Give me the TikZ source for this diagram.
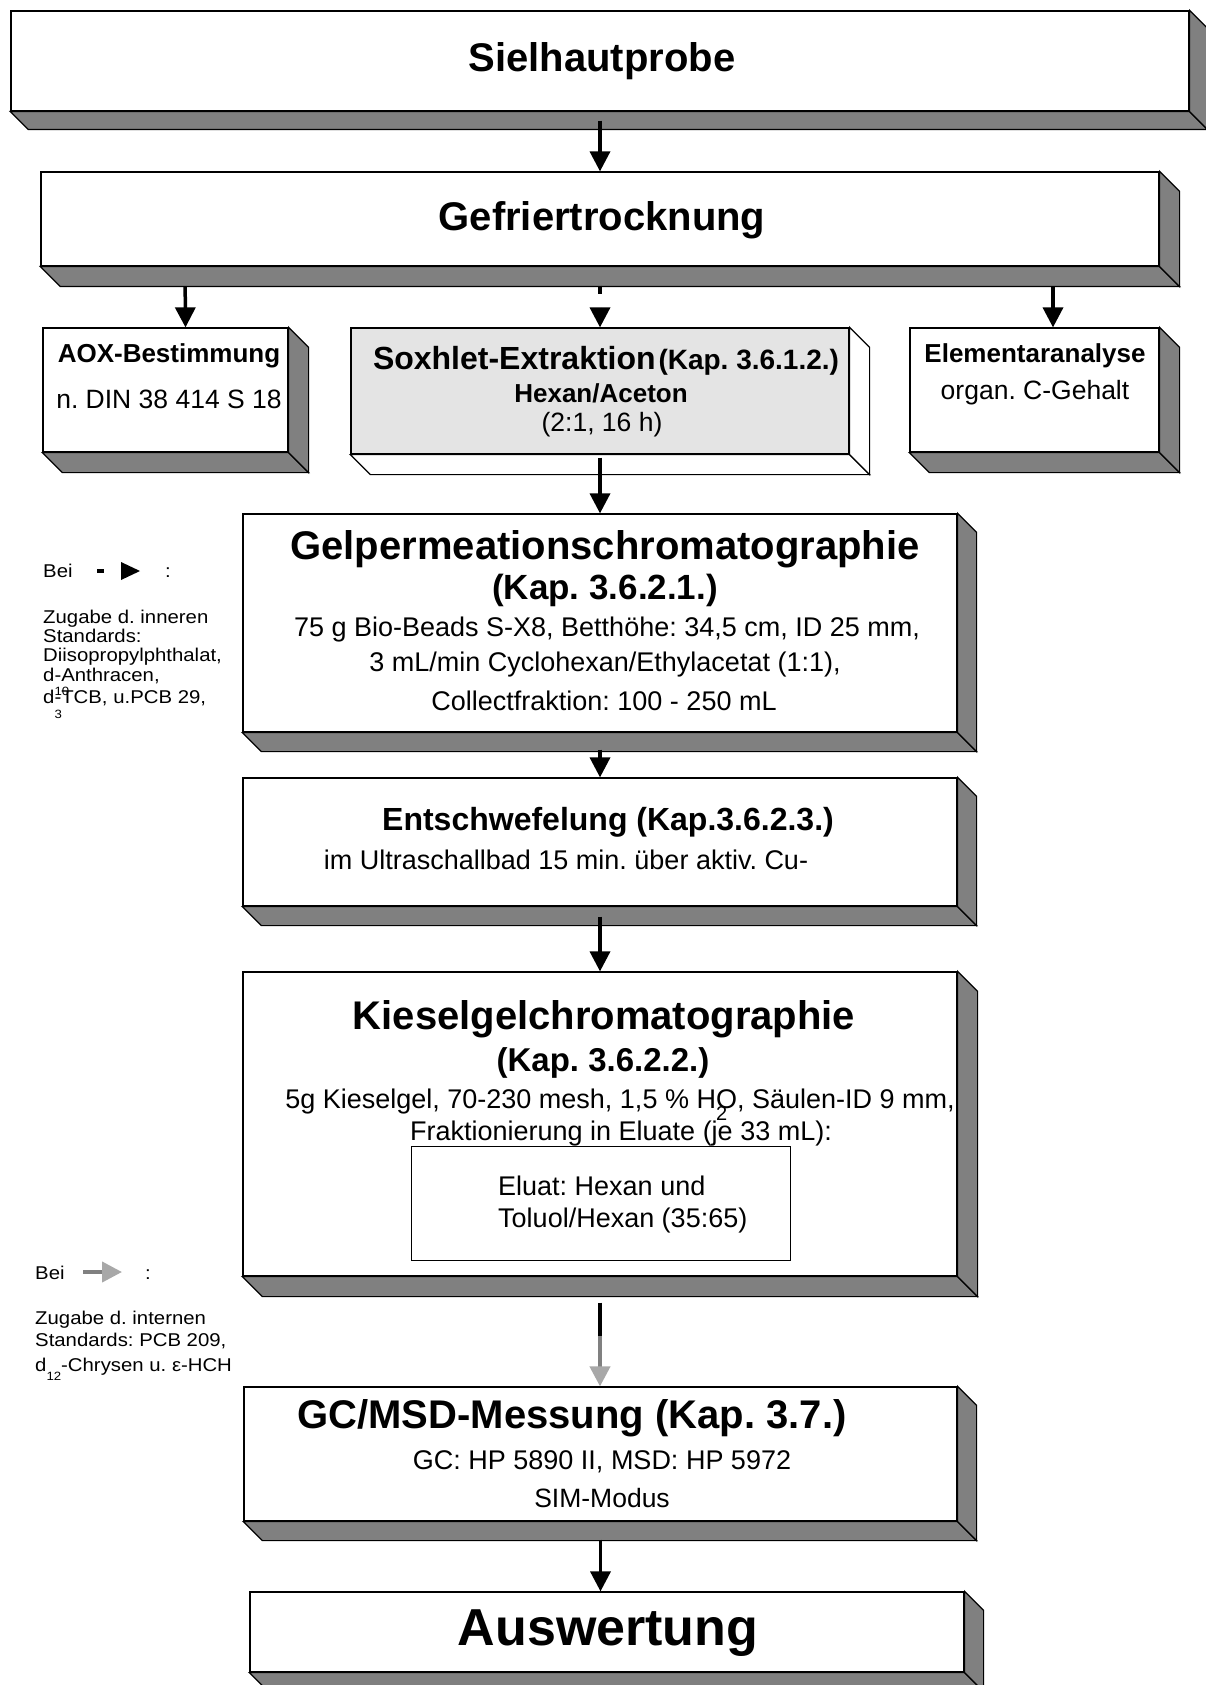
\documentclass[tikz,border=0pt]{standalone}
\usepackage{fontspec}
\setmainfont{Liberation Sans}
\newfontfamily\legfont[FakeStretch=1.1]{Liberation Sans}
\usetikzlibrary{arrows.meta}
\frenchspacing

\definecolor{shadegray}{HTML}{808080}
\definecolor{soxgray}{HTML}{E4E4E4}
\definecolor{headgray}{HTML}{A8A8A8}

\newcommand\headfont{\fontsize{40}{44}\selectfont\bfseries}
\newcommand\kapfont{\fontsize{33}{37}\selectfont\bfseries}
\newcommand\boldsmall{\fontsize{26}{30}\selectfont\bfseries}
\newcommand\bodyfont{\fontsize{27}{31}\selectfont}
\newcommand\smallfont{\fontsize{26.5}{30}\selectfont}
\newcommand\legsize{\legfont\fontsize{18.5}{20}\selectfont}

% bottom and right face of a 3d box
\newcommand\sidefaces[3][shadegray]{%
  \draw[line width=1.2pt, fill=#1] (#2.south west) -- ++(#3,#3)
    -- ([shift={(#3,#3)}]#2.south east) -- (#2.south east) -- cycle;
  \draw[line width=1.2pt, fill=#1] (#2.north east) -- ++(#3,#3)
    -- ([shift={(#3,#3)}]#2.south east) -- (#2.south east) -- cycle;}

\tikzset{
  front/.style={draw, line width=1.2pt, fill=white, inner sep=0pt},
  txt/.style={inner sep=0pt, align=center},
  legtxt/.style={inner sep=0pt, anchor=base west, font=\legsize},
  flow/.style={line width=3.5pt, -{Triangle[length=20pt,width=20pt]}},
  grayflow/.style={draw=shadegray, line width=4pt,
    -{Triangle[length=20pt,width=20pt,color=headgray]}},
}

\begin{document}
\begin{tikzpicture}[x=1pt,y=-1pt]
\useasboundingbox[fill=white] (0,0) rectangle (1206,1685);

  \node[front, minimum width=1178pt, minimum height=100pt] (siel) at (600,61) {};
  \sidefaces{siel}{18}
  \node[txt, font=\headfont] (siel-t) at (602,61) {Sielhautprobe};

  \node[front, minimum width=1118pt, minimum height=94pt] (gefr) at (600,219) {};
  \sidefaces{gefr}{20}
  \node[txt, font=\headfont] (gefr-t) at (602,220) {Gefriertrocknung};

  \node[front, minimum width=245pt, minimum height=124pt] (aox) at (165.5,390) {};
  \sidefaces{aox}{20}
  \node[txt, font=\boldsmall] (aox-t1) at (169,356) {AOX-Bestimmung};
  \node[txt, font=\smallfont] (aox-t2) at (169,399) {n. DIN 38 414 S 18};

  \node[front, fill=soxgray, minimum width=498pt, minimum height=126pt] (soxh) at (600,391) {};
  \sidefaces[white]{soxh}{20}
  \node[txt] (soxh-t1) at (606,361) {{\fontsize{32}{36}\selectfont\bfseries Soxhlet-Extraktion} {\fontsize{28}{32}\selectfont\bfseries (Kap. 3.6.1.2.)}};
  \node[txt, font=\boldsmall] (soxh-t2) at (601,393) {Hexan/Aceton};
  \node[txt, font=\smallfont] (soxh-t3) at (602,425) {(2:1, 16 h)};

  \node[front, minimum width=249pt, minimum height=124pt] (elem) at (1034.5,390) {};
  \sidefaces{elem}{20}
  \node[txt, font=\boldsmall] (elem-t1) at (1035,356) {Elementaranalyse};
  \node[txt, font=\smallfont] (elem-t2) at (1035,393) {organ. C-Gehalt};

  \node[front, minimum width=714pt, minimum height=218pt] (gpc) at (600,623) {};
  \sidefaces{gpc}{19}
  \node[txt, font=\headfont] (gpc-t1) at (605,549) {Gelpermeationschromatographie};
  \node[txt, font={\fontsize{35}{39}\selectfont\bfseries}] (gpc-t2) at (605,590) {(Kap. 3.6.2.1.)};
  \node[txt, font=\bodyfont] (gpc-t3) at (607,630) {75 g Bio-Beads S-X8, Betthöhe: 34,5 cm, ID 25 mm,};
  \node[txt, font=\bodyfont] (gpc-t4) at (605,665) {3 mL/min Cyclohexan/Ethylacetat (1:1),};
  \node[txt, font=\bodyfont] (gpc-t5) at (604,701) {Collectfraktion: 100 - 250 mL};

  \node[front, minimum width=714pt, minimum height=128pt] (schw) at (600,842) {};
  \sidefaces{schw}{19}
  \node[txt, font={\fontsize{32}{36}\selectfont\bfseries}] (schw-t1) at (608,822) {Entschwefelung (Kap.3.6.2.3.)};
  \node[txt, font=\bodyfont] (schw-t2) at (566,860) {im Ultraschallbad 15 min. über aktiv. Cu-};

  \node[front, minimum width=714pt, minimum height=304pt] (kies) at (600,1124) {};
  \sidefaces{kies}{20}
  \node[txt, font=\headfont] (kies-t1) at (604,1019) {Kieselgelchromatographie};
  \node[txt, font=\kapfont] (kies-t2) at (603,1063) {(Kap. 3.6.2.2.)};
  \node[txt, font=\bodyfont] (kies-t3) at (620,1105) {5g Kieselgel, 70-230 mesh, 1,5 \% H\rlap{\raisebox{-12pt}{\fontsize{20}{20}\selectfont 2}}O, Säulen-ID 9 mm,};
  \node[txt, font=\bodyfont] (kies-t4) at (621,1134) {Fraktionierung in Eluate (je 33 mL):};

  \node[draw, line width=1pt, minimum width=379pt, minimum height=114pt] (eluat) at (600.5,1203) {};
  \node[txt, anchor=west, font=\bodyfont] (eluat-t1) at (498,1186) {Eluat: Hexan und};
  \node[txt, anchor=west, font=\bodyfont] (eluat-t2) at (498,1220) {Toluol/Hexan (35:65)};

  \node[front, minimum width=713pt, minimum height=134pt] (gcms) at (600.5,1454) {};
  \sidefaces{gcms}{19}
  \node[txt, font=\headfont] (gcms-t1) at (572,1418) {GC/MSD-Messung (Kap. 3.7.)};
  \node[txt, font=\bodyfont] (gcms-t2) at (602,1462) {GC: HP 5890 II, MSD: HP 5972};
  \node[txt, font=\smallfont] (gcms-t3) at (602,1498) {SIM-Modus};

  \node[front, minimum width=714pt, minimum height=80pt] (ausw) at (607,1632) {};
  \sidefaces{ausw}{19}
  \node[txt, font={\fontsize{52}{56}\selectfont\bfseries}] (ausw-t) at (608,1633) {Auswertung};

  % connectors
  \draw[flow, shorten <=9pt] (siel) -- (gefr);
  \draw[flow, shorten <=20pt] ([xshift=-415pt]gefr.south) -- ([xshift=20pt]aox.north);
  \draw[flow, shorten <=20pt] ([xshift=453pt]gefr.south) -- ([xshift=18.5pt]elem.north);
  \draw[line width=4pt] ([yshift=-19pt]gefr.south) -- ++(0,8);
  \draw[flow, shorten <=41pt] (gefr.south) -- (soxh.north);
  \draw[flow, shorten <=3pt] (soxh) -- (gpc);
  \draw[flow, shorten <=17pt] (gpc) -- (schw);
  \draw[flow, shorten <=10pt] (schw) -- (kies);
  \draw[line width=4pt] ([yshift=-26pt]kies.south) -- ([yshift=-59pt]kies.south);
  \draw[grayflow, shorten <=59pt] (kies.south) -- (kies.south |- gcms.north);
  \draw[flow, shorten <=18pt] (gcms.south) -- (gcms.south |- ausw.north);

  % legend
  \node[legtxt] (bei1) at (43,577) {Bei};
  \draw[line width=4.5pt] (97,571) -- (104,571);
  \fill (121,562) -- (140,571) -- (121,580) -- cycle;
  \node[legtxt] (col1) at (165,577) {:};
  \node[legtxt] (std1a) at (43,623) {Zugabe d. inneren};
  \node[legtxt] (std1b) at (43,642) {Standards:};
  \node[legtxt] (std1c) at (43,661) {Diisopropylphthalat,};
  \node[legtxt] (std1d) at (43,681) {d\rlap{\raisebox{-14pt}{\fontsize{12}{12}\selectfont 10}}-Anthracen,};
  \node[legtxt] (std1e) at (43,703) {d\rlap{\raisebox{-15pt}{\fontsize{12}{12}\selectfont 3}}-TCB, u.PCB 29,};

  \node[legtxt] (bei2) at (35,1279) {Bei};
  \draw[grayflow] (83,1272) -- (122,1272);
  \node[legtxt] (col2) at (145,1279) {:};
  \node[legtxt] (std2a) at (35,1324) {Zugabe d. internen};
  \node[legtxt] (std2b) at (35,1346) {Standards: PCB 209,};
  \node[legtxt] (std2c) at (35,1371) {d\raisebox{-9pt}{\fontsize{12}{12}\selectfont 12}-Chrysen u. ε-HCH};
\end{tikzpicture}
\end{document}
